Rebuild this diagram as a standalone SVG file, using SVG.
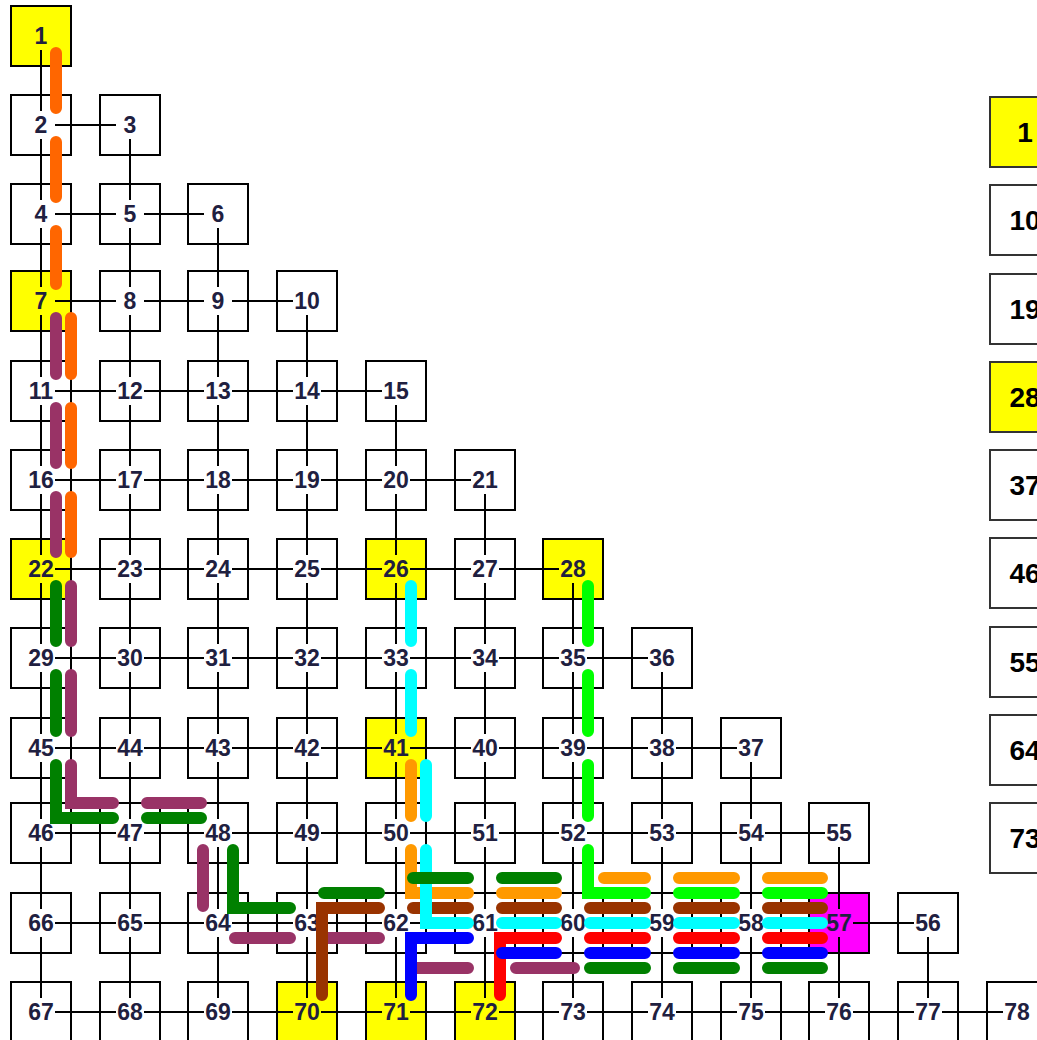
<svg xmlns="http://www.w3.org/2000/svg" width="1037" height="1040" viewBox="0 0 1037 1040">
<style>
.b{fill:#fff;stroke:#000;stroke-width:2}
.lg{fill:#fff;stroke:#333;stroke-width:2}
.y{fill:#ffff00}
.m{fill:#ff00ff}
.t{font-family:"Liberation Sans",Arial,sans-serif;font-size:23px;font-weight:bold;fill:#1f2040;text-anchor:middle}
.lt{font-family:"Liberation Sans",Arial,sans-serif;font-size:28px;font-weight:bold;fill:#000;text-anchor:middle}
.c{fill:none;stroke:#000;stroke-width:2}
.bar{fill:none;stroke-width:12;stroke-linecap:round;stroke-linejoin:miter}
</style>
<rect width="1037" height="1040" fill="#fff"/>
<g id="nodes">
<g id="n1"><rect class="b y" x="11" y="6" width="60" height="60"/><text class="t" x="41" y="44">1</text></g>
<g id="n2"><rect class="b" x="11" y="95" width="60" height="60"/><text class="t" x="41" y="133">2</text></g>
<g id="n3"><rect class="b" x="100" y="95" width="60" height="60"/><text class="t" x="130" y="133">3</text></g>
<g id="n4"><rect class="b" x="11" y="184" width="60" height="60"/><text class="t" x="41" y="222">4</text></g>
<g id="n5"><rect class="b" x="100" y="184" width="60" height="60"/><text class="t" x="130" y="222">5</text></g>
<g id="n6"><rect class="b" x="188" y="184" width="60" height="60"/><text class="t" x="218" y="222">6</text></g>
<g id="n7"><rect class="b y" x="11" y="271" width="60" height="60"/><text class="t" x="41" y="309">7</text></g>
<g id="n8"><rect class="b" x="100" y="271" width="60" height="60"/><text class="t" x="130" y="309">8</text></g>
<g id="n9"><rect class="b" x="188" y="271" width="60" height="60"/><text class="t" x="218" y="309">9</text></g>
<g id="n10"><rect class="b" x="277" y="271" width="60" height="60"/><text class="t" x="307" y="309">10</text></g>
<g id="n11"><rect class="b" x="11" y="361" width="60" height="60"/><text class="t" x="41" y="399">11</text></g>
<g id="n12"><rect class="b" x="100" y="361" width="60" height="60"/><text class="t" x="130" y="399">12</text></g>
<g id="n13"><rect class="b" x="188" y="361" width="60" height="60"/><text class="t" x="218" y="399">13</text></g>
<g id="n14"><rect class="b" x="277" y="361" width="60" height="60"/><text class="t" x="307" y="399">14</text></g>
<g id="n15"><rect class="b" x="366" y="361" width="60" height="60"/><text class="t" x="396" y="399">15</text></g>
<g id="n16"><rect class="b" x="11" y="450" width="60" height="60"/><text class="t" x="41" y="488">16</text></g>
<g id="n17"><rect class="b" x="100" y="450" width="60" height="60"/><text class="t" x="130" y="488">17</text></g>
<g id="n18"><rect class="b" x="188" y="450" width="60" height="60"/><text class="t" x="218" y="488">18</text></g>
<g id="n19"><rect class="b" x="277" y="450" width="60" height="60"/><text class="t" x="307" y="488">19</text></g>
<g id="n20"><rect class="b" x="366" y="450" width="60" height="60"/><text class="t" x="396" y="488">20</text></g>
<g id="n21"><rect class="b" x="455" y="450" width="60" height="60"/><text class="t" x="485" y="488">21</text></g>
<g id="n22"><rect class="b y" x="11" y="539" width="60" height="60"/><text class="t" x="41" y="577">22</text></g>
<g id="n23"><rect class="b" x="100" y="539" width="60" height="60"/><text class="t" x="130" y="577">23</text></g>
<g id="n24"><rect class="b" x="188" y="539" width="60" height="60"/><text class="t" x="218" y="577">24</text></g>
<g id="n25"><rect class="b" x="277" y="539" width="60" height="60"/><text class="t" x="307" y="577">25</text></g>
<g id="n26"><rect class="b y" x="366" y="539" width="60" height="60"/><text class="t" x="396" y="577">26</text></g>
<g id="n27"><rect class="b" x="455" y="539" width="60" height="60"/><text class="t" x="485" y="577">27</text></g>
<g id="n28"><rect class="b y" x="543" y="539" width="60" height="60"/><text class="t" x="573" y="577">28</text></g>
<g id="n29"><rect class="b" x="11" y="628" width="60" height="60"/><text class="t" x="41" y="666">29</text></g>
<g id="n30"><rect class="b" x="100" y="628" width="60" height="60"/><text class="t" x="130" y="666">30</text></g>
<g id="n31"><rect class="b" x="188" y="628" width="60" height="60"/><text class="t" x="218" y="666">31</text></g>
<g id="n32"><rect class="b" x="277" y="628" width="60" height="60"/><text class="t" x="307" y="666">32</text></g>
<g id="n33"><rect class="b" x="366" y="628" width="60" height="60"/><text class="t" x="396" y="666">33</text></g>
<g id="n34"><rect class="b" x="455" y="628" width="60" height="60"/><text class="t" x="485" y="666">34</text></g>
<g id="n35"><rect class="b" x="543" y="628" width="60" height="60"/><text class="t" x="573" y="666">35</text></g>
<g id="n36"><rect class="b" x="632" y="628" width="60" height="60"/><text class="t" x="662" y="666">36</text></g>
<g id="n45"><rect class="b" x="11" y="718" width="60" height="60"/><text class="t" x="41" y="756">45</text></g>
<g id="n44"><rect class="b" x="100" y="718" width="60" height="60"/><text class="t" x="130" y="756">44</text></g>
<g id="n43"><rect class="b" x="188" y="718" width="60" height="60"/><text class="t" x="218" y="756">43</text></g>
<g id="n42"><rect class="b" x="277" y="718" width="60" height="60"/><text class="t" x="307" y="756">42</text></g>
<g id="n41"><rect class="b y" x="366" y="718" width="60" height="60"/><text class="t" x="396" y="756">41</text></g>
<g id="n40"><rect class="b" x="455" y="718" width="60" height="60"/><text class="t" x="485" y="756">40</text></g>
<g id="n39"><rect class="b" x="543" y="718" width="60" height="60"/><text class="t" x="573" y="756">39</text></g>
<g id="n38"><rect class="b" x="632" y="718" width="60" height="60"/><text class="t" x="662" y="756">38</text></g>
<g id="n37"><rect class="b" x="721" y="718" width="60" height="60"/><text class="t" x="751" y="756">37</text></g>
<g id="n46"><rect class="b" x="11" y="803" width="60" height="60"/><text class="t" x="41" y="841">46</text></g>
<g id="n47"><rect class="b" x="100" y="803" width="60" height="60"/><text class="t" x="130" y="841">47</text></g>
<g id="n48"><rect class="b" x="188" y="803" width="60" height="60"/><text class="t" x="218" y="841">48</text></g>
<g id="n49"><rect class="b" x="277" y="803" width="60" height="60"/><text class="t" x="307" y="841">49</text></g>
<g id="n50"><rect class="b" x="366" y="803" width="60" height="60"/><text class="t" x="396" y="841">50</text></g>
<g id="n51"><rect class="b" x="455" y="803" width="60" height="60"/><text class="t" x="485" y="841">51</text></g>
<g id="n52"><rect class="b" x="543" y="803" width="60" height="60"/><text class="t" x="573" y="841">52</text></g>
<g id="n53"><rect class="b" x="632" y="803" width="60" height="60"/><text class="t" x="662" y="841">53</text></g>
<g id="n54"><rect class="b" x="721" y="803" width="60" height="60"/><text class="t" x="751" y="841">54</text></g>
<g id="n55"><rect class="b" x="809" y="803" width="60" height="60"/><text class="t" x="839" y="841">55</text></g>
<g id="n66"><rect class="b" x="11" y="893" width="60" height="60"/><text class="t" x="41" y="931">66</text></g>
<g id="n65"><rect class="b" x="100" y="893" width="60" height="60"/><text class="t" x="130" y="931">65</text></g>
<g id="n64"><rect class="b" x="188" y="893" width="60" height="60"/><text class="t" x="218" y="931">64</text></g>
<g id="n63"><rect class="b" x="277" y="893" width="60" height="60"/><text class="t" x="307" y="931">63</text></g>
<g id="n62"><rect class="b" x="366" y="893" width="60" height="60"/><text class="t" x="396" y="931">62</text></g>
<g id="n61"><rect class="b" x="455" y="893" width="60" height="60"/><text class="t" x="485" y="931">61</text></g>
<g id="n60"><rect class="b" x="543" y="893" width="60" height="60"/><text class="t" x="573" y="931">60</text></g>
<g id="n59"><rect class="b" x="632" y="893" width="60" height="60"/><text class="t" x="662" y="931">59</text></g>
<g id="n58"><rect class="b" x="721" y="893" width="60" height="60"/><text class="t" x="751" y="931">58</text></g>
<g id="n57"><rect class="b m" x="809" y="893" width="60" height="60"/><text class="t" x="839" y="931">57</text></g>
<g id="n56"><rect class="b" x="898" y="893" width="60" height="60"/><text class="t" x="928" y="931">56</text></g>
<g id="n67"><rect class="b" x="11" y="982" width="60" height="60"/><text class="t" x="41" y="1020">67</text></g>
<g id="n68"><rect class="b" x="100" y="982" width="60" height="60"/><text class="t" x="130" y="1020">68</text></g>
<g id="n69"><rect class="b" x="188" y="982" width="60" height="60"/><text class="t" x="218" y="1020">69</text></g>
<g id="n70"><rect class="b y" x="277" y="982" width="60" height="60"/><text class="t" x="307" y="1020">70</text></g>
<g id="n71"><rect class="b y" x="366" y="982" width="60" height="60"/><text class="t" x="396" y="1020">71</text></g>
<g id="n72"><rect class="b y" x="455" y="982" width="60" height="60"/><text class="t" x="485" y="1020">72</text></g>
<g id="n73"><rect class="b" x="543" y="982" width="60" height="60"/><text class="t" x="573" y="1020">73</text></g>
<g id="n74"><rect class="b" x="632" y="982" width="60" height="60"/><text class="t" x="662" y="1020">74</text></g>
<g id="n75"><rect class="b" x="721" y="982" width="60" height="60"/><text class="t" x="751" y="1020">75</text></g>
<g id="n76"><rect class="b" x="809" y="982" width="60" height="60"/><text class="t" x="839" y="1020">76</text></g>
<g id="n77"><rect class="b" x="898" y="982" width="60" height="60"/><text class="t" x="928" y="1020">77</text></g>
<g id="n78"><rect class="b" x="987" y="982" width="60" height="60"/><text class="t" x="1017" y="1020">78</text></g>
</g>
<g id="legend">
<g id="l1"><rect class="lg y" x="990" y="97" width="70" height="70"/><text class="lt" x="1025" y="142">1</text></g>
<g id="l10"><rect class="lg" x="990" y="185" width="70" height="70"/><text class="lt" x="1025" y="230">10</text></g>
<g id="l19"><rect class="lg" x="990" y="274" width="70" height="70"/><text class="lt" x="1025" y="319">19</text></g>
<g id="l28"><rect class="lg y" x="990" y="362" width="70" height="70"/><text class="lt" x="1025" y="407">28</text></g>
<g id="l37"><rect class="lg" x="990" y="450" width="70" height="70"/><text class="lt" x="1025" y="495">37</text></g>
<g id="l46"><rect class="lg" x="990" y="538" width="70" height="70"/><text class="lt" x="1025" y="583">46</text></g>
<g id="l55"><rect class="lg" x="990" y="627" width="70" height="70"/><text class="lt" x="1025" y="672">55</text></g>
<g id="l64"><rect class="lg" x="990" y="715" width="70" height="70"/><text class="lt" x="1025" y="760">64</text></g>
<g id="l73"><rect class="lg" x="990" y="803" width="70" height="70"/><text class="lt" x="1025" y="848">73</text></g>
</g>
<g id="connectors" class="c">
<path d="M55 125H116"/>
<path d="M55 214H116M144 214H204"/>
<path d="M55 301H116M144 301H204M232 301H293"/>
<path d="M55 391H116M144 391H204M232 391H293M321 391H382"/>
<path d="M55 480H116M144 480H204M232 480H293M321 480H382M410 480H471"/>
<path d="M55 569H116M144 569H204M232 569H293M321 569H382M410 569H471M499 569H559"/>
<path d="M55 658H116M144 658H204M232 658H293M321 658H382M410 658H471M499 658H559M587 658H648"/>
<path d="M55 748H116M144 748H204M232 748H293M321 748H382M410 748H471M499 748H559M587 748H648M676 748H737"/>
<path d="M55 833H116M144 833H204M232 833H293M321 833H382M410 833H471M499 833H559M587 833H648M676 833H737M765 833H825"/>
<path d="M55 923H116M144 923H204M232 923H293M321 923H382M410 923H471M499 923H559M587 923H648M676 923H737M765 923H825M853 923H914"/>
<path d="M55 1012H116M144 1012H204M232 1012H293M321 1012H382M410 1012H471M499 1012H559M587 1012H648M676 1012H737M765 1012H825M853 1012H914M942 1012H1003"/>
<path d="M41 50V111M41 139V200M41 228V287M41 315V377M41 405V466M41 494V555M41 583V644M41 672V734M41 762V819M41 847V909M41 937V998"/>
<path d="M130 139V200M130 228V287M130 315V377M130 405V466M130 494V555M130 583V644M130 672V734M130 762V819M130 847V909M130 937V998"/>
<path d="M218 228V287M218 315V377M218 405V466M218 494V555M218 583V644M218 672V734M218 762V819M218 847V909M218 937V998"/>
<path d="M307 315V377M307 405V466M307 494V555M307 583V644M307 672V734M307 762V819M307 847V909M307 937V998"/>
<path d="M396 405V466M396 494V555M396 583V644M396 672V734M396 762V819M396 847V909M396 937V998"/>
<path d="M485 494V555M485 583V644M485 672V734M485 762V819M485 847V909M485 937V998"/>
<path d="M573 583V644M573 672V734M573 762V819M573 847V909M573 937V998"/>
<path d="M662 672V734M662 762V819M662 847V909M662 937V998"/>
<path d="M751 762V819M751 847V909M751 937V998"/>
<path d="M839 847V909M839 937V998"/>
<path d="M928 937V998"/>
</g>
<g id="routes" class="bar">
<path stroke="#ff6600" d="M56 53V108M56 142V197M56 231V284M71 318V374M71 408V463M71 497V552"/>
<path stroke="#993366" d="M56 318V374M56 408V463M56 497V552M71 586V641M71 675V731M71 765V803H113M147 803H201M203 850V906M235 938H290M324 938H379M413 968H468M516 968H574"/>
<path stroke="#ff9900" d="M411 765V816M411 850V893H468M502 893H556M604 878H645M679 878H734M768 878H822"/>
<path stroke="#993300" d="M322 995V908H379M413 908H468M502 908H556M590 908H645M679 908H734M768 908H822"/>
<path stroke="#00ffff" d="M411 586V641M411 675V731M426 765V816M426 850V923H468M502 923H556M590 923H645M679 923H734M768 923H822"/>
<path stroke="#008000" d="M56 586V641M56 675V731M56 765V818H113M147 818H201M233 850V908H290M324 893H379M413 878H468M502 878H556M590 968H645M679 968H734M768 968H822"/>
<path stroke="#00ff00" d="M588 586V641M588 675V731M588 765V816M588 850V893H645M679 893H734M768 893H822"/>
<path stroke="#ff0000" d="M500 995V938H556M590 938H645M679 938H734M768 938H822"/>
<path stroke="#0000ff" d="M411 995V938H468M502 953H556M590 953H645M679 953H734M768 953H822"/>
</g>
</svg>
